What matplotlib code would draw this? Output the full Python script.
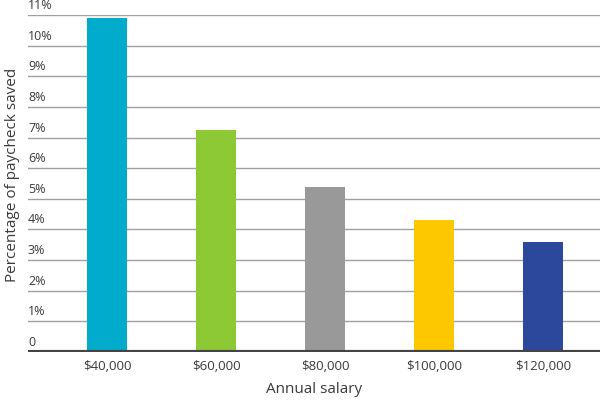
import matplotlib
matplotlib.use("Agg")
from matplotlib import pyplot as plt
from matplotlib import transforms

# data
salaries = ["$40,000", "$60,000", "$80,000", "$100,000", "$120,000"]
saved_pct = [10.9, 7.25, 5.4, 4.3, 3.6]
bar_colors = ["#00abcc", "#8dc935", "#999999", "#fdc800", "#2b489c"]
y_ticks = list(range(0, 12))
y_labels = ["0"] + [f"{v}%" for v in y_ticks[1:]]

plt.rcParams['font.family'] = ['Open Sans', 'DejaVu Sans']
txt = "#3a3a3a"

fig = plt.figure(figsize=(6, 4), dpi=100)
ax = fig.add_axes([28 / 600, 48 / 400, 572 / 600, 337 / 400])

xs = list(range(len(salaries)))
ax.bar(xs, saved_pct, width=0.37, color=bar_colors, zorder=3)

ax.set_xlim(-0.725, 4.52)
ax.set_ylim(0, 11)

# gridlines
for v in y_ticks[1:]:
    ax.axhline(v, color="#a0a0a0", lw=1, zorder=1)
ax.axhline(0, color="#444444", lw=3, zorder=4)

# y labels sit above the gridlines on the left
trans = transforms.blended_transform_factory(ax.transAxes, ax.transData)
offset = transforms.offset_copy(trans, fig=fig, x=0, y=3, units="dots")
for v, lab in zip(y_ticks, y_labels):
    ax.text(0, v, lab, transform=offset, ha="left", va="bottom",
            fontsize=9, color=txt)

ax.set_yticks([])
ax.set_xticks(xs)
ax.set_xticklabels(salaries, fontsize=9.5, color=txt)
ax.tick_params(axis="x", length=0, pad=6)
for s in ax.spines.values():
    s.set_visible(False)

ax.set_xlabel("Annual salary", fontsize=11, color=txt, labelpad=6)
fig.text(13 / 600, 1 - 175 / 400, "Percentage of paycheck saved",
         rotation=90, ha="center", va="center", fontsize=11, color=txt)

fig.savefig("out.png", dpi=100)
